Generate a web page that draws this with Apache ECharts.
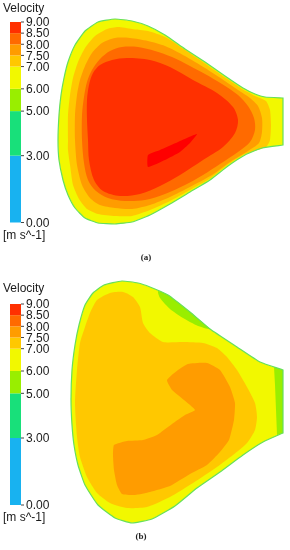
<!DOCTYPE html>
<html>
<head>
<meta charset="utf-8">
<script src="https://cdn.jsdelivr.net/npm/echarts@6/dist/echarts.min.js"></script>
<style>
html,body{margin:0;padding:0;background:#fff;}
#chart{width:290px;height:550px;}
</style>
</head>
<body>
<div id="chart"></div>
<script>
// ---- Legend scale (m s^-1) ----
const LEVELS = [0, 3, 5, 6, 7, 7.5, 8, 8.5, 9];
const LEVEL_COLORS = ['#18b2f0', '#18e07a', '#99ee00', '#f2f800', '#ffc800', '#ff9c00', '#ff6a00', '#ff3000'];
const PEAK_COLOR = '#ff0000';
const WALL_COLOR = '#66e05a';

// ---- Panel (a): contour polygons, local units (outlet corners listed twice = sharp corner) ----
const A_OUTLINE = [[8,130],[9,105],[11,85],[14,68],[18,52],[25,35],[35,21],[48,12],[65,9],[82,11],[98,16],[115,25],[135,39],[155,52],[175,66],[193,78],[205,84],[215,87],[233,88],[233,88],[233,135],[233,135],[212,138],[195,145],[178,156],[160,170],[140,182],[120,194],[100,205],[82,212],[65,214],[48,213],[35,208],[25,198],[18,185],[13,170],[9,150]];
const A_V70 = [[18,130],[18,105],[20,85],[23,68],[28,52],[35,38],[45,26],[57,19],[68,17],[82,19],[98,21],[115,27],[135,40],[155,53.5],[175,67.5],[193,79.5],[205,86],[216,91],[220,100],[221,115],[220,130],[216,137],[195,144],[178,154.5],[160,168.5],[140,180],[120,191],[100,200],[82,206],[65,206],[48,204],[37,199],[29,189],[23,175],[20,155],[18,140]];
const A_V75 = [[25,130],[25,105],[27,85],[30,70],[35,56],[42,43],[52,33],[65,28],[80,28],[98,31],[115,36],[135,46],[155,58],[172,69],[188,80],[200,88],[208,96],[212,108],[212,122],[209,133],[198,141],[180,152],[162,165],[140,177],[120,187],[100,195],[82,199],[65,198],[50,195],[40,188],[32,175],[27,155]];
const A_V80 = [[32,130],[32,105],[34,87],[37,72],[42,60],[50,49],[60,41],[72,37],[88,37],[105,41],[122,47],[140,56],[155,64],[172,74],[188,85],[198,96],[204,108],[205,120],[200,132],[188,142],[170,154],[153,165],[135,175],[115,184],[95,190],[75,191],[58,188],[46,181],[38,170],[34,153]];
const A_V85 = [[38,130],[37,110],[37,90],[39,75],[43,63],[50,55],[62,50],[77,48],[100,50],[120,57],[143,70],[167,83],[183,97],[188,110],[185,123],[173,137],[153,150],[130,165],[110,176],[90,184],[70,186],[53,181],[44,170],[39,150]];
const A_V90 = [[98,145],[110,140],[128,132],[147,124],[140,133],[130,142],[115,150],[98,157]];

// ---- Panel (b): contour polygons, local units ----
const B_OUTLINE = [[21,125],[22,95],[25,70],[29,50],[35,30],[43,18],[54,10],[72,6],[88,8],[100,12],[118,20],[140,37],[160,54],[187,72],[210,87],[233,95],[233,95],[233,158],[233,158],[213,167],[193,180],[170,197],[147,213],[125,231],[102,244],[82,248],[65,243],[48,230],[35,210],[28,190],[24,170],[22,150]];
const B_V50_TOP = [[108,16],[118,20],[140,37],[160,54],[148,51],[133,43],[120,34],[110,23]];
const B_V50_OUTLET = [[224,92],[233,95],[233,158],[227,160],[226,135],[225,110]];
const B_V70 = [[25,128],[27,95],[30,68],[35,52],[40,38],[47,25],[60,18],[73,17],[83,22],[90,32],[93,48],[100,58],[113,67],[133,67],[153,68],[167,73],[177,82],[187,95],[197,112],[205,128],[207,142],[205,155],[197,168],[183,180],[167,192],[143,208],[120,222],[97,232],[77,233],[60,228],[47,218],[37,202],[30,182],[27,162]];
const B_V75 = [[117,105],[128,95],[138,89],[157,88],[170,95],[180,112],[185,128],[184,145],[179,165],[170,177],[157,190],[140,199],[120,211],[100,217],[85,220],[72,219],[67,210],[64,195],[63,180],[64,170],[77,166],[93,165],[107,160],[122,149],[135,140],[145,135],[134,125],[122,115]];

const FONT = "'Liberation Sans', Arial, sans-serif";

const layersA = [
  { pts: A_OUTLINE, fill: LEVEL_COLORS[3], smooth: 0.15 },
  { pts: A_V70, fill: LEVEL_COLORS[4], smooth: 0.2 },
  { pts: A_V75, fill: LEVEL_COLORS[5], smooth: 0.25 },
  { pts: A_V80, fill: LEVEL_COLORS[6], smooth: 0.3 },
  { pts: A_V85, fill: LEVEL_COLORS[7], smooth: 0.3 },
  { pts: A_V90, fill: PEAK_COLOR, smooth: 0.15 },
  { pts: A_OUTLINE, fill: 'none', stroke: WALL_COLOR, lw: 1.2, smooth: 0.15 }
];
const layersB = [
  { pts: B_OUTLINE, fill: LEVEL_COLORS[3], smooth: 0.15 },
  { pts: B_V50_TOP, fill: LEVEL_COLORS[2], smooth: 0.2 },
  { pts: B_V50_OUTLET, fill: LEVEL_COLORS[2] },
  { pts: B_V70, fill: LEVEL_COLORS[4], smooth: 0.2 },
  { pts: B_V75, fill: LEVEL_COLORS[5], smooth: 0.15 },
  { pts: B_OUTLINE, fill: 'none', stroke: WALL_COLOR, lw: 1.2, smooth: 0.15 }
];

function contourRender(layers) {
  return function (params, api) {
    const L = layers[params.dataIndex];
    const pts = L.pts.map(p => api.coord(p));
    return {
      type: 'polygon',
      shape: { points: pts, smooth: L.smooth || 0 },
      style: {
        fill: L.fill === 'none' ? null : L.fill,
        stroke: L.stroke || null,
        lineWidth: L.lw || 0
      }
    };
  };
}
function legendRender(params, api) {
  const p0 = api.coord([0, api.value(1)]);
  const p1 = api.coord([1, api.value(0)]);
  return {
    type: 'rect',
    shape: { x: p0[0], y: p0[1], width: p1[0] - p0[0], height: p1[1] - p0[1] },
    style: { fill: LEVEL_COLORS[params.dataIndex] }
  };
}
function legendLabelRender(params, api) {
  const v = api.value(1);
  const p = api.coord([1, v]);
  return {
    type: 'group',
    children: [
      { type: 'line', shape: { x1: p[0], y1: p[1], x2: p[0] + 3, y2: p[1] }, style: { stroke: '#444', lineWidth: 1 } },
      { type: 'text', x: p[0] + 5, y: p[1] + 1, style: { text: v.toFixed(2), fontSize: 12, fill: '#1a1a1a', fontFamily: FONT, verticalAlign: 'middle', align: 'left' } }
    ]
  };
}
const bandData = LEVEL_COLORS.map((c, i) => [LEVELS[i], LEVELS[i + 1]]);
const labelData = LEVELS.map(v => [1, v]);

function legendYAxis(gridIndex) {
  return { gridIndex, type: 'value', min: 0, max: 9, show: false, splitLine: { show: false } };
}
function hiddenAxis(gridIndex, min, max, inverse) {
  return { gridIndex, type: 'value', min, max, inverse: !!inverse, show: false, splitLine: { show: false } };
}

const chart = echarts.init(document.getElementById('chart'), null, { renderer: 'canvas' });
chart.setOption({
  animation: false,
  backgroundColor: '#ffffff',
  grid: [
    { left: 50, top: 10, width: 240, height: 230 },
    { left: 50, top: 275, width: 240, height: 255 },
    { left: 10, top: 22, width: 11, height: 200.5 },
    { left: 10, top: 304, width: 11, height: 201 }
  ],
  xAxis: [
    hiddenAxis(0, 0, 240),
    hiddenAxis(1, 0, 240),
    hiddenAxis(2, 0, 1),
    hiddenAxis(3, 0, 1)
  ],
  yAxis: [
    hiddenAxis(0, 0, 230, true),
    hiddenAxis(1, 0, 255, true),
    legendYAxis(2),
    legendYAxis(3)
  ],
  graphic: [
    { type: 'text', left: 3, top: 3, style: { text: 'Velocity', fontSize: 12, fill: '#1a1a1a', fontFamily: FONT } },
    { type: 'text', left: 3, top: 230, style: { text: '[m s^-1]', fontSize: 12, fill: '#1a1a1a', fontFamily: FONT } },
    { type: 'text', left: 3, top: 283, style: { text: 'Velocity', fontSize: 12, fill: '#1a1a1a', fontFamily: FONT } },
    { type: 'text', left: 3, top: 512, style: { text: '[m s^-1]', fontSize: 12, fill: '#1a1a1a', fontFamily: FONT } },
    { type: 'text', x: 146, y: 258, style: { text: '(a)', fontSize: 9, fontWeight: 'bold', fill: '#222', fontFamily: "'Liberation Serif', 'DejaVu Serif', serif", align: 'center', verticalAlign: 'middle' } },
    { type: 'text', x: 141, y: 537, style: { text: '(b)', fontSize: 9, fontWeight: 'bold', fill: '#222', fontFamily: "'Liberation Serif', 'DejaVu Serif', serif", align: 'center', verticalAlign: 'middle' } }
  ],
  series: [
    { type: 'custom', xAxisIndex: 0, yAxisIndex: 0, renderItem: contourRender(layersA), data: layersA.map((l, i) => [i, i]), silent: true },
    { type: 'custom', xAxisIndex: 1, yAxisIndex: 1, renderItem: contourRender(layersB), data: layersB.map((l, i) => [i, i]), silent: true },
    { type: 'custom', xAxisIndex: 2, yAxisIndex: 2, renderItem: legendRender, data: bandData, silent: true },
    { type: 'custom', xAxisIndex: 3, yAxisIndex: 3, renderItem: legendRender, data: bandData, silent: true },
    { type: 'custom', xAxisIndex: 2, yAxisIndex: 2, renderItem: legendLabelRender, data: labelData, silent: true, clip: false },
    { type: 'custom', xAxisIndex: 3, yAxisIndex: 3, renderItem: legendLabelRender, data: labelData, silent: true, clip: false }
  ]
});
</script>
</body>
</html>
